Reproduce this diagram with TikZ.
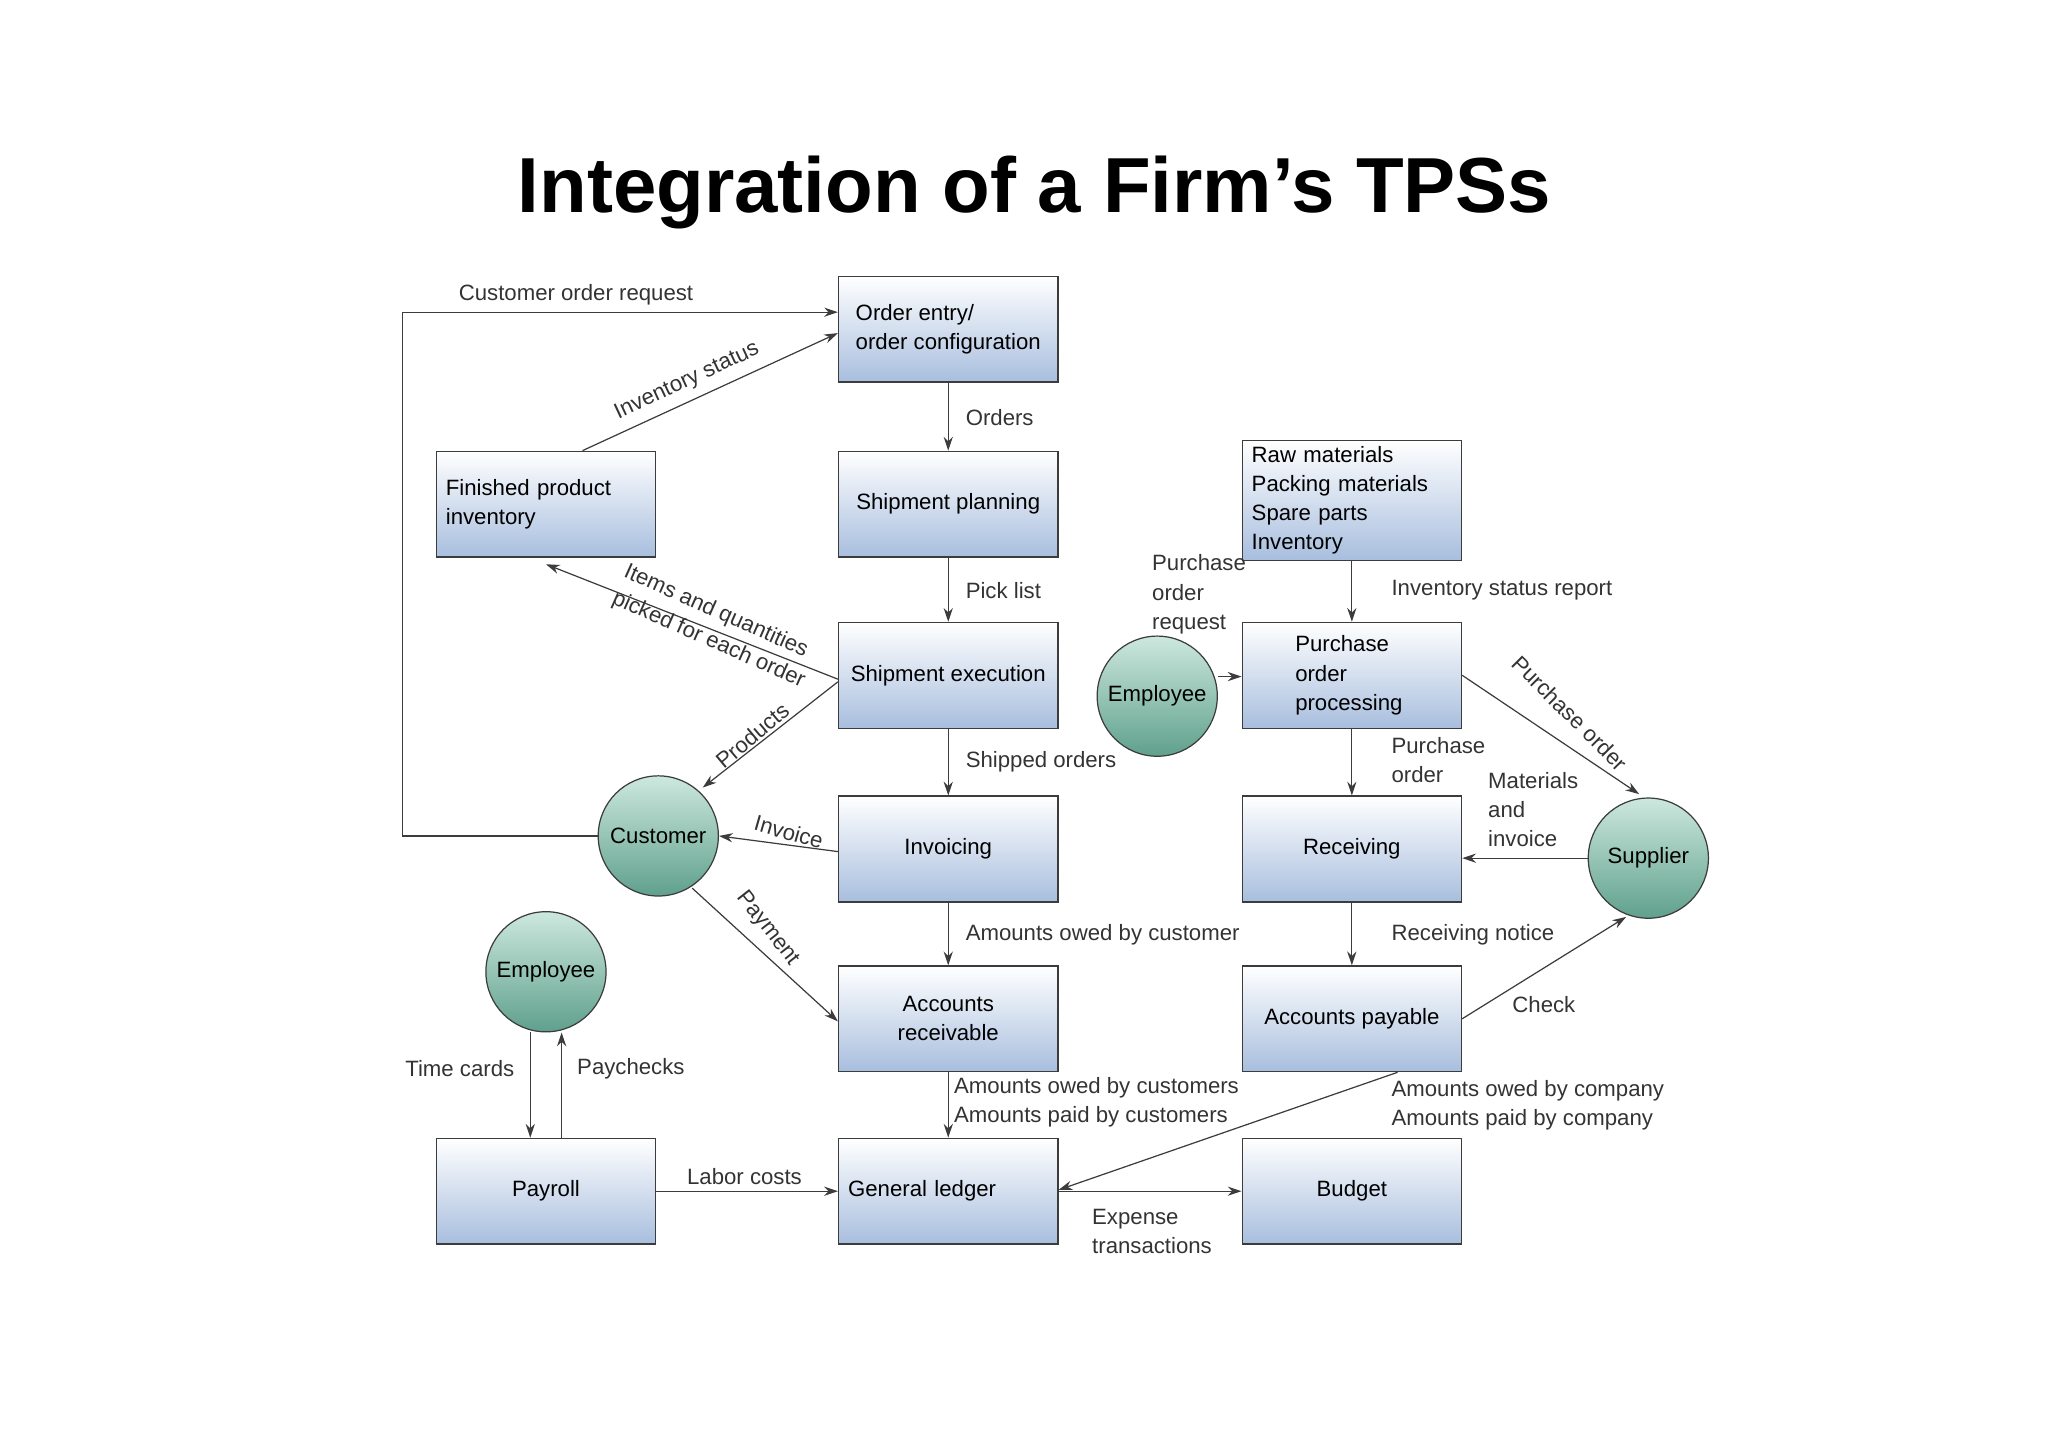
\documentclass[tikz,border=0pt]{standalone}
\usepackage{fontspec}
\setmainfont{Liberation Sans}
\usetikzlibrary{arrows.meta,calc}
\definecolor{boxbot}{RGB}{168,190,222}
\definecolor{circbot}{RGB}{95,160,140}
\definecolor{circtop}{RGB}{205,232,222}
\definecolor{ln}{RGB}{60,60,60}
\begin{document}
\begin{tikzpicture}[x=0.03cm,y=-0.03cm,
  font=\fontsize{14.5}{19}\selectfont,
  box/.style={draw=ln,line width=0.8pt,top color=white,bottom color=boxbot,minimum width=5.04cm,minimum height=2.43cm,inner sep=4pt},
  circ/.style={circle,draw=ln,line width=0.8pt,top color=circtop,bottom color=circbot,minimum size=2.76cm,inner sep=0pt},
  arr/.style={draw=ln,line width=0.8pt,-{Stealth[length=9pt,width=6pt]}},
  lbl/.style={text=black!80,inner sep=1pt}]
\useasboundingbox (0,0) rectangle (1568,1107);
\node[font=\fontsize{51}{58}\selectfont\bfseries] (title) at (792,147) {Integration of a Firm’s TPSs};
% boxes
\node[box,align=left] (oe) at (726,252) {Order entry/\\order configuration};
\node[box,align=left,text width=4.6cm] (fp) at (418,386) {Finished product\\inventory};
\node[box] (sp) at (726,386) {Shipment planning};
\node[box,align=left,text width=4.6cm,minimum height=2.58cm] (rm) at (1035,383) {Raw materials\\Packing materials\\Spare parts\\Inventory};
\node[box] (se) at (726,517) {Shipment execution};
\node[box,align=left,text width=2.6cm] (po) at (1035,517) {Purchase\\order\\processing};
\node[box] (inv) at (726,650) {Invoicing};
\node[box] (rec) at (1035,650) {Receiving};
\node[box,align=center] (ar) at (726,780) {Accounts\\receivable};
\node[box] (ap) at (1035,780) {Accounts payable};
\node[box] (pay) at (418,912) {Payroll};
\node[box,align=left,text width=4.6cm] (gl) at (726,912) {General ledger};
\node[box] (bud) at (1035,912) {Budget};
% circles
\node[circ] (emp1) at (886,533) {Employee};
\node[circ] (cus) at (504,640) {Customer};
\node[circ] (sup) at (1262,657) {Supplier};
\node[circ] (emp2) at (418,744) {Employee};
% connectors
\coordinate (c1) at (308,640); \coordinate (c2) at (308,239);
\draw[arr] (cus.west) -- (c1) -- (c2) -- (c2 -| oe.west);
\node[lbl] at (441,226) {Customer order request};
\draw[arr] (446,345) -- (oe.west |- 0,255);
\node[lbl,rotate=25] at (526,292) {Inventory status};
\draw[arr] (oe) -- (sp); \node[lbl,anchor=west] at (738,320) {Orders};
\draw[arr] (sp) -- (se); \node[lbl,anchor=west] at (738,452) {Pick list};
\draw[arr] (se.west |- 0,520) -- (418,432);
\node[lbl,rotate=-24,align=left] at (547,480) {Items and quantities\\picked for each order};
\draw[arr] (se.west |- 0,522) -- (538,603);
\node[lbl,rotate=40] at (576,563) {Products};
\draw[arr] (se) -- (inv); \node[lbl,anchor=west] at (738,583) {Shipped orders};
\draw[arr] (inv.west |- 0,652) -- (cus.east);
\node[lbl,rotate=-16] at (604,637) {Invoice};
\draw[arr] (530,680) -- (ar.west |- 0,782);
\node[lbl,rotate=-52] at (588,711) {Payment};
\draw[arr] (inv) -- (ar); \node[lbl,anchor=west] at (738,716) {Amounts owed by customer};
\draw[arr] (ar) -- (gl);
\node[lbl,anchor=west,align=left] at (729,844) {Amounts owed by customers\\Amounts paid by customers};
\draw[arr] (emp2.south -| 406,0) -- (pay.north -| 406,0);
\draw[arr] (pay.north -| 430,0) -- (emp2.south -| 430,0);
\node[lbl] at (352,818) {Time cards};
\node[lbl] at (483,818) {Paychecks};
\draw[arr] (pay) -- (gl); \node[lbl] at (570,901) {Labor costs};
\draw[arr] (gl) -- (bud);
\node[lbl,align=left] at (882,943) {Expense\\transactions};
\draw[arr] (ap.south -| 1070,0) -- (gl.east |- 0,911);
\node[lbl,anchor=west,align=left] at (1064,846) {Amounts owed by company\\Amounts paid by company};
\draw[arr] (rm) -- (po); \node[lbl,anchor=west] at (1064,452) {Inventory status report};
\draw[arr] (emp1.east |- 0,518) -- (po.west |- 0,518);
\node[lbl,align=left] at (918,455) {Purchase\\order\\request};
\draw[arr] (po.east |- 0,517) -- (1255,608);
\node[lbl,rotate=-45] at (1202,546) {Purchase order};
\draw[arr] (po) -- (rec); \node[lbl,anchor=west,align=left] at (1064,582) {Purchase\\order};
\draw[arr] (sup.west) -- (rec.east |- sup.west);
\node[lbl,anchor=west,align=left] at (1138,620) {Materials\\and\\invoice};
\draw[arr] (rec) -- (ap); \node[lbl,anchor=west] at (1064,716) {Receiving notice};
\draw[arr] (ap.east |- 0,780) -- (1245,702);
\node[lbl] at (1182,769) {Check};
\end{tikzpicture}
\end{document}
